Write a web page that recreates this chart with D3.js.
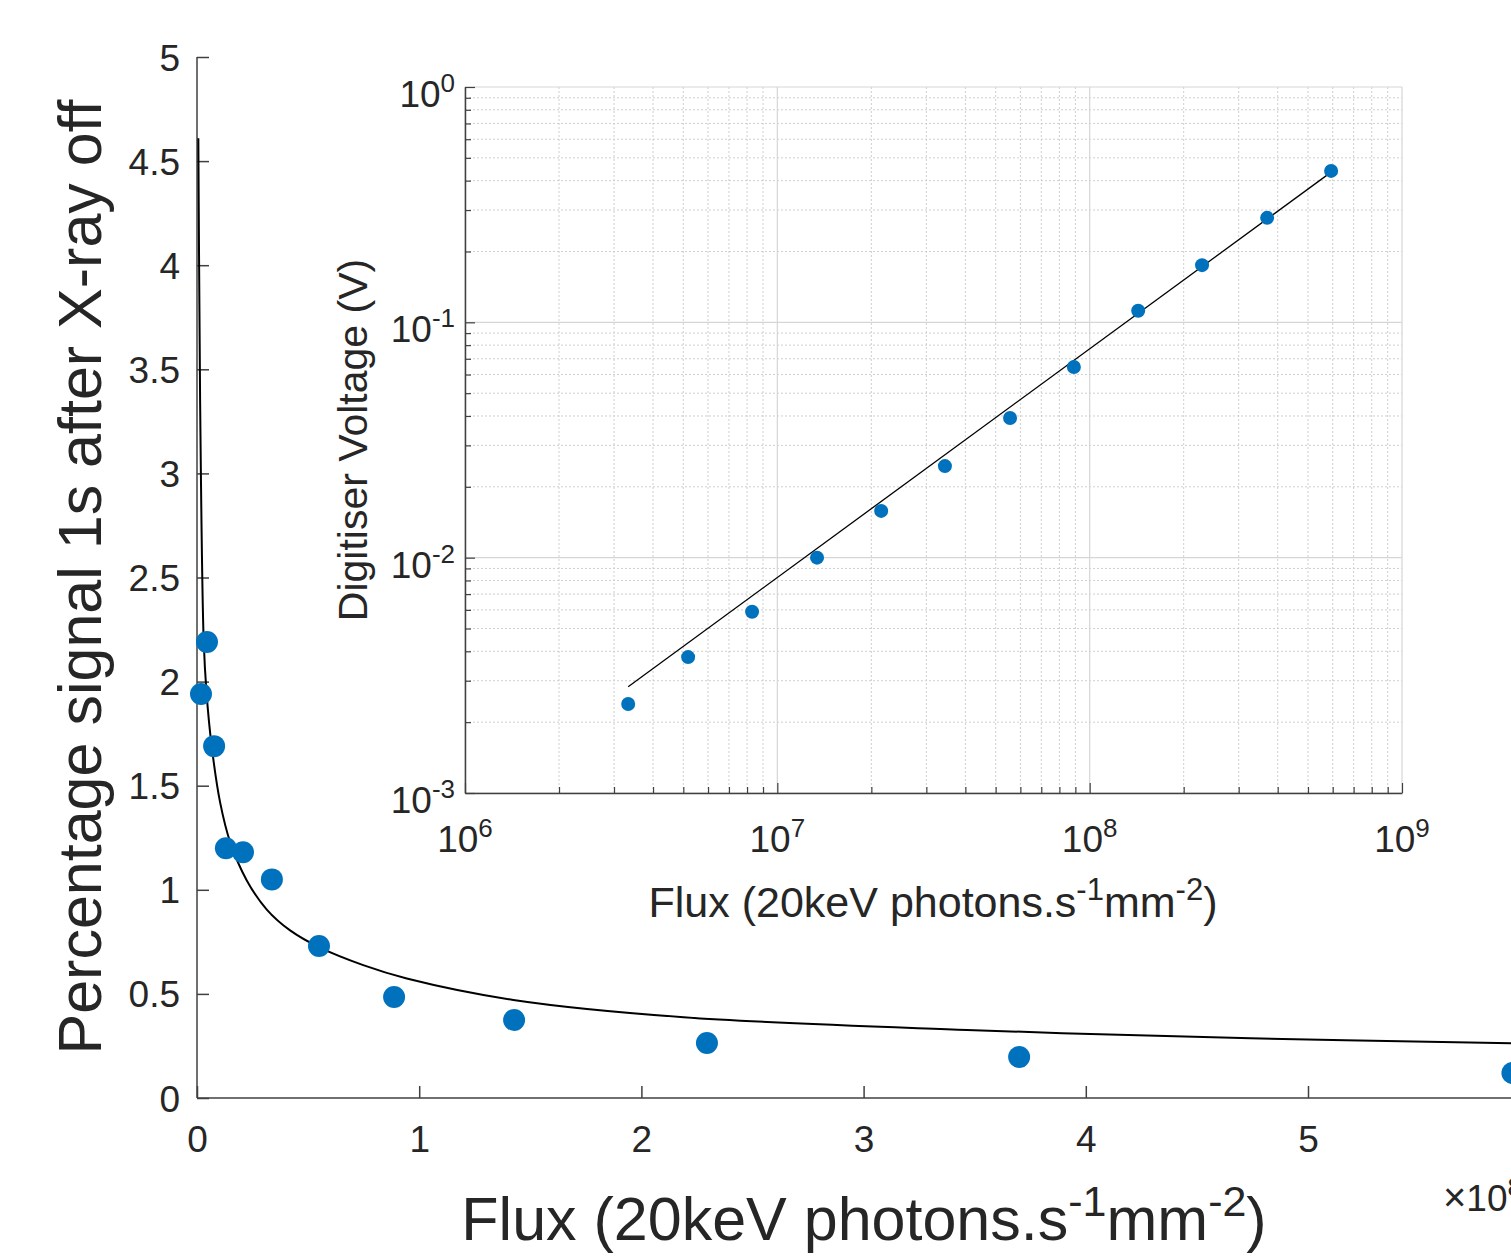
<!DOCTYPE html>
<html>
<head>
<meta charset="utf-8">
<script src="https://cdn.jsdelivr.net/npm/d3@7"></script>
<style>
  body { margin: 0; background: #fff; overflow: hidden; }
  svg { display: block; }
  text { font-family: "Liberation Sans", Arial, Helvetica, sans-serif; fill: #262626; }
</style>
</head>
<body>
<svg id="chart"></svg>
<script>
// main plot: flux in units of 1e8 photons/s/mm2, percentage signal 1s after X-ray off
const mainFlux = [0.018, 0.045, 0.077, 0.13, 0.207, 0.337, 0.549, 0.887, 1.427, 2.295, 3.70, 5.92];
const mainSignal = [1.94, 2.19, 1.69, 1.20, 1.18, 1.05, 0.73, 0.485, 0.375, 0.264, 0.197, 0.12];

// fitted curve
const fitFlux = [0.006, 0.009, 0.014, 0.03, 0.043, 0.066, 0.104, 0.149, 0.224, 0.314, 0.419, 0.554, 0.748, 0.944, 1.424, 2.19, 3.465, 4.741, 5.914, 6.0];
const fitSignal = [4.61, 4.07, 3.35, 2.2, 1.945, 1.69, 1.42, 1.23, 1.045, 0.905, 0.805, 0.722, 0.638, 0.574, 0.471, 0.388, 0.327, 0.287, 0.263, 0.261];

const mainXTicks = [0, 1, 2, 3, 4, 5];
const mainYTicks = [0, 0.5, 1, 1.5, 2, 2.5, 3, 3.5, 4, 4.5, 5];

// inset: digitiser voltage vs flux (log-log)
const insetFlux = [3.33e6, 5.18e6, 8.3e6, 1.34e7, 2.15e7, 3.44e7, 5.56e7, 8.9e7, 1.43e8, 2.29e8, 3.70e8, 5.93e8];
const insetVoltage = [2.39e-3, 3.78e-3, 5.89e-3, 1.0e-2, 1.58e-2, 2.45e-2, 3.92e-2, 6.46e-2, 0.112, 0.175, 0.278, 0.440];
const insetFitFlux = [3.33e6, 5.96e8];
const insetFitVoltage = [2.83e-3, 0.437];

const insetXExp = [6, 7, 8, 9];
const insetYExp = [-3, -2, -1, 0];

const W = 1511, H = 1260;
const svg = d3.select("#chart").attr("width", W).attr("height", H);

const axisColor = "#404040";
const dotColor = "#0072BD";

// ---------- main axes ----------
const x = d3.scaleLinear().domain([0, 6]).range([197, 197 + 6 * 222.2]);
const y = d3.scaleLinear().domain([0, 5]).range([1098, 57]);

const gx = svg.append("g")
  .attr("transform", `translate(0,${y(0)})`)
  .call(d3.axisBottom(x).tickValues(mainXTicks).tickSize(-12).tickPadding(0).tickFormat(d3.format("d")));
gx.select(".domain").attr("stroke", axisColor).attr("stroke-width", 1.5).attr("d", `M${x(0)},0H${x(6)}`);
gx.selectAll(".tick line").attr("stroke", axisColor).attr("stroke-width", 1.5);
gx.selectAll(".tick text").attr("y", 54).attr("dy", null).attr("font-size", 37).attr("fill", "#262626");

const gy = svg.append("g")
  .attr("transform", `translate(${x(0)},0)`)
  .call(d3.axisLeft(y).tickValues(mainYTicks).tickSize(-12).tickPadding(0).tickFormat(d => d));
gy.select(".domain").attr("stroke", axisColor).attr("stroke-width", 1.5).attr("d", `M0,${y(0)}V${y(5)}`);
gy.selectAll(".tick line").attr("stroke", axisColor).attr("stroke-width", 1.5);
gy.selectAll(".tick text").attr("x", -17).attr("dy", 13).attr("font-size", 37).attr("fill", "#262626");
svg.selectAll(".tick text").style("font-family", '"Liberation Sans", Arial, sans-serif');

// fitted curve
const fitData = fitFlux.map((f, i) => [f, fitSignal[i]]);
svg.append("path")
  .datum(fitData)
  .attr("fill", "none")
  .attr("stroke", "#000")
  .attr("stroke-width", 2)
  .attr("d", d3.line().x(d => x(d[0])).y(d => y(d[1])).curve(d3.curveCatmullRom.alpha(0.5)));

// data points
svg.append("g").selectAll("circle")
  .data(mainFlux.map((f, i) => [f, mainSignal[i]]))
  .join("circle")
  .attr("cx", d => x(d[0]))
  .attr("cy", d => y(d[1]))
  .attr("r", 11)
  .attr("fill", dotColor);

// axis labels
const xl = svg.append("text")
  .attr("x", 864).attr("y", 1240)
  .attr("text-anchor", "middle")
  .attr("font-size", 61)
  .attr("fill", "#000");
xl.append("tspan").text("Flux (20keV photons.s");
xl.append("tspan").attr("dy", -24).attr("font-size", 43).text("-1");
xl.append("tspan").attr("dy", 24).text("mm");
xl.append("tspan").attr("dy", -24).attr("font-size", 43).text("-2");
xl.append("tspan").attr("dy", 24).text(")");

svg.append("text")
  .attr("transform", "translate(101,577) rotate(-90)")
  .attr("text-anchor", "middle")
  .attr("font-size", 61)
  .attr("fill", "#000")
  .text("Percentage signal 1s after X-ray off");

// exponent note (cut at the right edge, as in the original)
const ex = svg.append("text").attr("x", 1443).attr("y", 1211).attr("font-size", 37);
ex.append("tspan").attr("font-size", 40).text("\u00d7");
ex.append("tspan").text("10");
ex.append("tspan").attr("dy", -15).attr("font-size", 26).text("8");

// ---------- inset ----------
const ix = d3.scaleLog().domain([1e6, 1e9]).range([465, 1402]);
const iy = d3.scaleLog().domain([1e-3, 1e0]).range([793, 87]);

const inset = svg.append("g");
inset.append("rect")
  .attr("x", ix(1e6)).attr("y", iy(1))
  .attr("width", ix(1e9) - ix(1e6)).attr("height", iy(1e-3) - iy(1))
  .attr("fill", "#fff");

const minorX = [], majorX = [];
for (let e = 6; e < 9; e++) for (let m = 1; m < 10; m++) (m === 1 ? majorX : minorX).push(m * Math.pow(10, e));
majorX.push(1e9);
const minorY = [], majorY = [];
for (let e = -3; e < 0; e++) for (let m = 1; m < 10; m++) (m === 1 ? majorY : minorY).push(m * Math.pow(10, e));
majorY.push(1);

// grid
inset.append("g").selectAll("line").data(minorX).join("line")
  .attr("x1", d => ix(d)).attr("x2", d => ix(d)).attr("y1", iy(1)).attr("y2", iy(1e-3))
  .attr("stroke", "#cfcfcf").attr("stroke-width", 1).attr("stroke-dasharray", "2,2");
inset.append("g").selectAll("line").data(minorY).join("line")
  .attr("y1", d => iy(d)).attr("y2", d => iy(d)).attr("x1", ix(1e6)).attr("x2", ix(1e9))
  .attr("stroke", "#cfcfcf").attr("stroke-width", 1).attr("stroke-dasharray", "2,2");
inset.append("g").selectAll("line").data(majorX).join("line")
  .attr("x1", d => ix(d)).attr("x2", d => ix(d)).attr("y1", iy(1)).attr("y2", iy(1e-3))
  .attr("stroke", "#d6d6d6").attr("stroke-width", 1.2);
inset.append("g").selectAll("line").data(majorY).join("line")
  .attr("y1", d => iy(d)).attr("y2", d => iy(d)).attr("x1", ix(1e6)).attr("x2", ix(1e9))
  .attr("stroke", "#d6d6d6").attr("stroke-width", 1.2);

// axes with inward ticks
const igx = inset.append("g").attr("transform", `translate(0,${iy(1e-3)})`)
  .call(d3.axisBottom(ix).tickValues(minorX.concat(majorX)).tickSize(0).tickFormat(""));
igx.select(".domain").attr("stroke", axisColor).attr("stroke-width", 1.5);
igx.selectAll(".tick line").attr("stroke", axisColor).attr("stroke-width", 1.2)
  .attr("y2", d => (majorX.includes(d) ? -10 : -6));
const igy = inset.append("g").attr("transform", `translate(${ix(1e6)},0)`)
  .call(d3.axisLeft(iy).tickValues(minorY.concat(majorY)).tickSize(0).tickFormat(""));
igy.select(".domain").attr("stroke", axisColor).attr("stroke-width", 1.5);
igy.selectAll(".tick line").attr("stroke", axisColor).attr("stroke-width", 1.2)
  .attr("x2", d => (majorY.includes(d) ? 10 : 6));

// tick labels with superscript exponents
insetXExp.forEach(e => {
  const t = inset.append("text").attr("x", ix(Math.pow(10, e))).attr("y", 852)
    .attr("text-anchor", "middle").attr("font-size", 37);
  t.append("tspan").text("10");
  t.append("tspan").attr("dy", -15).attr("font-size", 26).text(e);
});
insetYExp.forEach(e => {
  const t = inset.append("text").attr("x", 455).attr("y", iy(Math.pow(10, e)) + 20)
    .attr("text-anchor", "end").attr("font-size", 37);
  t.append("tspan").text("10");
  t.append("tspan").attr("dy", -15).attr("font-size", 26).text(e);
});

// fit line and points
inset.append("path")
  .datum(insetFitFlux.map((f, i) => [f, insetFitVoltage[i]]))
  .attr("fill", "none").attr("stroke", "#000").attr("stroke-width", 1.3)
  .attr("d", d3.line().x(d => ix(d[0])).y(d => iy(d[1])));
inset.append("g").selectAll("circle")
  .data(insetFlux.map((f, i) => [f, insetVoltage[i]]))
  .join("circle")
  .attr("cx", d => ix(d[0])).attr("cy", d => iy(d[1]))
  .attr("r", 7).attr("fill", dotColor);

// inset labels
const ixl = inset.append("text").attr("x", 933).attr("y", 917)
  .attr("text-anchor", "middle").attr("font-size", 43).attr("fill", "#000");
ixl.append("tspan").text("Flux (20keV photons.s");
ixl.append("tspan").attr("dy", -17).attr("font-size", 31).text("-1");
ixl.append("tspan").attr("dy", 17).text("mm");
ixl.append("tspan").attr("dy", -17).attr("font-size", 31).text("-2");
ixl.append("tspan").attr("dy", 17).text(")");

inset.append("text")
  .attr("transform", "translate(367,440) rotate(-90)")
  .attr("text-anchor", "middle")
  .attr("font-size", 41)
  .attr("fill", "#000")
  .text("Digitiser Voltage (V)");
</script>
</body>
</html>
